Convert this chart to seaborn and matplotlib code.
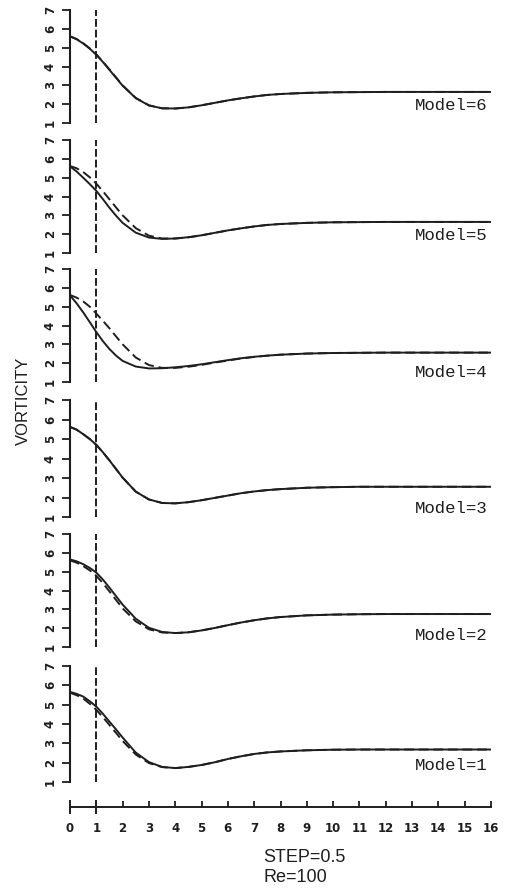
import numpy as np
import pandas as pd
import matplotlib
matplotlib.use("Agg")
import matplotlib.pyplot as plt
import seaborn as sns

# step positions (x)
steps = [0, 0.25, 0.5, 0.75, 1, 1.25, 1.5, 1.75, 2, 2.5, 3, 3.5, 4, 4.5, 5, 5.5, 6, 6.5, 7, 7.5, 8,
         9, 10, 11, 12, 13, 14, 15, 16]

# vorticity per model: solid = model, dashed = reference
solid_m6 = [5.60, 5.45, 5.22, 4.95, 4.62, 4.24, 3.82, 3.40, 2.98, 2.32, 1.93, 1.78, 1.77, 1.83,
            1.94, 2.07, 2.20, 2.31, 2.41, 2.49, 2.54, 2.60, 2.63, 2.64, 2.65, 2.65, 2.65, 2.65, 2.65]
dashed_m6 = [5.60, 5.46, 5.24, 4.96, 4.64, 4.26, 3.84, 3.42, 3.00, 2.33, 1.94, 1.78, 1.77, 1.83,
             1.94, 2.07, 2.20, 2.31, 2.41, 2.49, 2.54, 2.60, 2.63, 2.64, 2.65, 2.65, 2.65, 2.65, 2.65]
solid_m5 = [5.60, 5.33, 5.00, 4.66, 4.30, 3.86, 3.40, 2.98, 2.60, 2.08, 1.82, 1.75, 1.77, 1.84,
            1.94, 2.07, 2.20, 2.31, 2.41, 2.49, 2.54, 2.60, 2.63, 2.64, 2.65, 2.65, 2.65, 2.65, 2.65]
dashed_m5 = [5.62, 5.50, 5.30, 5.02, 4.68, 4.28, 3.85, 3.42, 3.00, 2.32, 1.92, 1.77, 1.77, 1.83,
             1.94, 2.07, 2.20, 2.31, 2.41, 2.49, 2.54, 2.60, 2.63, 2.64, 2.65, 2.65, 2.65, 2.65, 2.65]
solid_m4 = [5.60, 5.18, 4.70, 4.18, 3.65, 3.17, 2.75, 2.40, 2.12, 1.82, 1.72, 1.73, 1.78, 1.85,
            1.94, 2.05, 2.16, 2.26, 2.34, 2.40, 2.45, 2.51, 2.54, 2.55, 2.56, 2.56, 2.56, 2.56, 2.56]
dashed_m4 = [5.62, 5.48, 5.28, 5.00, 4.63, 4.25, 3.85, 3.42, 3.00, 2.30, 1.90, 1.75, 1.75, 1.81,
             1.91, 2.03, 2.14, 2.25, 2.33, 2.40, 2.45, 2.51, 2.54, 2.55, 2.56, 2.56, 2.56, 2.56, 2.56]
solid_m3 = [5.62, 5.48, 5.25, 5.00, 4.70, 4.32, 3.90, 3.46, 3.02, 2.30, 1.90, 1.72, 1.70, 1.76,
            1.86, 1.98, 2.10, 2.22, 2.31, 2.38, 2.43, 2.50, 2.53, 2.55, 2.55, 2.55, 2.55, 2.55, 2.55]
dashed_m3 = solid_m3
solid_m2 = [5.65, 5.55, 5.40, 5.20, 4.95, 4.58, 4.15, 3.70, 3.25, 2.50, 2.02, 1.80, 1.74, 1.78,
            1.88, 2.01, 2.16, 2.30, 2.42, 2.52, 2.59, 2.68, 2.72, 2.74, 2.75, 2.75, 2.75, 2.75, 2.75]
dashed_m2 = [5.60, 5.48, 5.30, 5.07, 4.78, 4.39, 3.95, 3.50, 3.05, 2.36, 1.94, 1.77, 1.74, 1.78,
             1.88, 2.01, 2.16, 2.30, 2.42, 2.52, 2.59, 2.68, 2.72, 2.74, 2.75, 2.75, 2.75, 2.75, 2.75]
solid_m1 = [5.66, 5.56, 5.42, 5.18, 4.90, 4.53, 4.12, 3.72, 3.30, 2.52, 2.03, 1.78, 1.72, 1.78,
            1.88, 2.02, 2.19, 2.33, 2.45, 2.53, 2.58, 2.64, 2.67, 2.68, 2.68, 2.68, 2.68, 2.68, 2.68]
dashed_m1 = [5.62, 5.49, 5.32, 5.05, 4.73, 4.35, 3.95, 3.54, 3.12, 2.42, 1.98, 1.77, 1.72, 1.78,
             1.88, 2.02, 2.19, 2.33, 2.45, 2.53, 2.58, 2.64, 2.67, 2.68, 2.68, 2.68, 2.68, 2.68, 2.68]

models = [6, 5, 4, 3, 2, 1]
solids = [solid_m6, solid_m5, solid_m4, solid_m3, solid_m2, solid_m1]
dasheds = [dashed_m6, dashed_m5, dashed_m4, dashed_m3, dashed_m2, dashed_m1]
y_ticks = [1, 2, 3, 4, 5, 6, 7]
x_ticks = list(range(0, 17))
marker_step = 1  # vertical dashed marker position

# layout (pixel rows of y=7 and y=1 for each panel, and label heights)
W, H = 506, 894
panel_top = [10, 140, 269, 400, 534, 666]
panel_bot = [123, 253, 382, 517, 647, 782]
label_y = [1.95, 1.95, 1.5, 1.45, 1.6, 1.85]
x0_px, x1_px = 70, 491

sns.set_style("white")
plt.rcParams['font.family'] = ['DejaVu Sans']
ink = "#1e1e1e"

fig = plt.figure(figsize=(W / 100, H / 100), dpi=100)

for i, m in enumerate(models):
    ax = fig.add_axes([x0_px / W, 1 - panel_bot[i] / H,
                       (x1_px - x0_px) / W, (panel_bot[i] - panel_top[i]) / H])
    df = pd.DataFrame({"step": steps, "model": solids[i], "ref": dasheds[i]})
    sns.lineplot(data=df, x="step", y="ref", ax=ax, color=ink, lw=1.4,
                 linestyle=(0, (5, 2.5)))
    sns.lineplot(data=df, x="step", y="model", ax=ax, color=ink, lw=1.4)
    ax.axvline(marker_step, color=ink, lw=1.4, linestyle=(0, (4, 1.5)))
    ax.set_xlim(0, 16)
    ax.set_ylim(1, 7)
    ax.set_facecolor("none")
    for s in ["top", "right", "bottom"]:
        ax.spines[s].set_visible(False)
    ax.spines["left"].set_color(ink)
    ax.spines["left"].set_linewidth(1.5)
    ax.set_xticks([])
    ax.set_yticks(y_ticks)
    ax.set_yticklabels([str(t) for t in y_ticks], va="center",
                       fontsize=8.5, fontweight="bold", color=ink)
    ax.tick_params(axis="y", direction="out", length=5.5, width=1.3, pad=4, color=ink,
                   left=True, labelrotation=90)
    ax.set_xlabel("")
    ax.set_ylabel("")
    ax.text(15.85, label_y[i], f"Model={m}", ha="right", va="center",
            family="Liberation Mono", fontsize=12.5, color=ink)

# bottom step axis
axb = fig.add_axes([x0_px / W, 1 - 807 / H, (x1_px - x0_px) / W, 0.0001])
axb.set_xlim(0, 16)
axb.set_ylim(0, 1)
axb.set_facecolor("none")
for s in ["top", "right", "left"]:
    axb.spines[s].set_visible(False)
axb.spines["bottom"].set_color(ink)
axb.spines["bottom"].set_linewidth(1.4)
axb.set_yticks([])
axb.set_xticks(x_ticks)
axb.set_xticklabels([str(t) for t in x_ticks], fontsize=8.5, fontweight="bold", color=ink)
axb.tick_params(axis="x", direction="in", length=4, width=1.3, pad=11, color=ink, bottom=True)
for t in axb.xaxis.get_major_ticks()[:2]:
    t.tick1line.set_marker("|")
    t.tick1line.set_markersize(10)
    t.tick1line.set_markeredgewidth(1.4)

fig.text(23 / W, 1 - 401 / H, "VORTICITY", rotation=90, ha="center", va="center",
         family="Liberation Sans", fontsize=12, color=ink)
fig.text(263 / W, 1 - 858 / H, "STEP=0.5", ha="left", va="center",
         family="Liberation Sans", fontsize=13, color=ink)
fig.text(264 / W, 1 - 878 / H, "Re=100", ha="left", va="center",
         family="Liberation Sans", fontsize=13, color=ink)

fig.savefig("out.png", dpi=100, facecolor="white")
